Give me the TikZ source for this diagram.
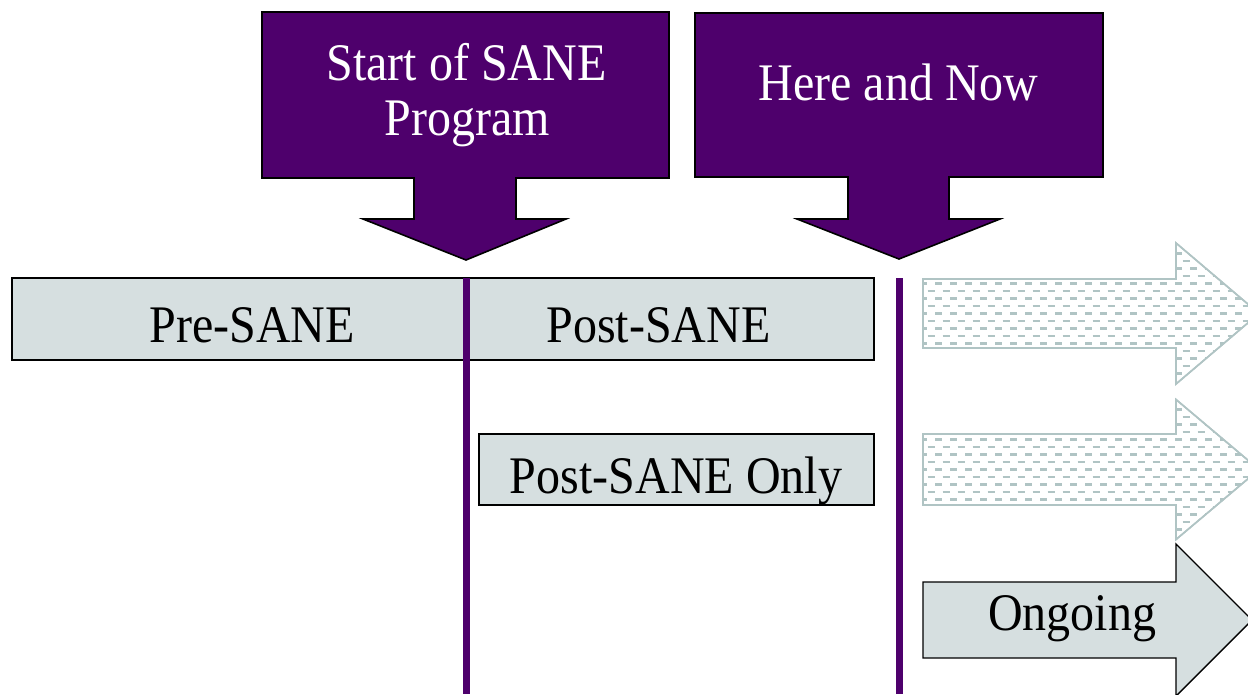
\documentclass[tikz,border=0pt]{standalone}
\usepackage{fontspec}
\usepackage{graphicx}
\setmainfont{Liberation Serif}
\definecolor{sanepurple}{RGB}{78,0,108}
\definecolor{boxgray}{RGB}{214,223,224}
\definecolor{dashgray}{RGB}{176,196,196}
\newcommand\bigtx[1]{\scalebox{1}[1.1]{\fontsize{48}{55}\selectfont #1}}
\begin{document}
\begin{tikzpicture}[x=1pt,y=-1pt,
  callout/.style={fill=sanepurple,draw=black,line width=1.6pt,line join=miter},
  graybox/.style={fill=boxgray,draw=black,line width=1.6pt},
  timeline/.style={draw=sanepurple,line width=7pt},
  ghost/.style={draw=dashgray,line width=1.6pt,fill=white},
  solidarrow/.style={fill=boxgray,draw=black,line width=1.4pt,line join=miter},
  dashrow/.style={draw=dashgray,line width=2.2pt,dash pattern=on 7pt off 8pt},
  wlbl/.style={text=white,anchor=base,inner sep=0pt},
  blbl/.style={text=black,anchor=base,inner sep=0pt}]
\useasboundingbox (0,0) rectangle (1248,694);

% callouts
\draw[callout] (262,12) -- (669,12) -- (669,178) -- (516,178) -- (516,219) -- (566,219)
  -- (466,260) -- (363,219) -- (414,219) -- (414,178) -- (262,178) -- cycle;
\draw[callout] (695,13) -- (1103,13) -- (1103,177) -- (949,177) -- (949,219) -- (1000,219)
  -- (899,259) -- (797,219) -- (848,219) -- (848,177) -- (695,177) -- cycle;
\node[wlbl] (start1) at (466.5,80) {\bigtx{Start of SANE}};
\node[wlbl] (start2) at (467,135) {\bigtx{Program}};
\node[wlbl] (here) at (898.5,100) {\bigtx{Here and Now}};

% boxes
\draw[graybox] (12,278) rectangle (874,360);
\draw[graybox] (479,434) rectangle (874,505);
\node[blbl] (pre) at (252,342) {\bigtx{Pre-SANE}};
\node[blbl] (post) at (658.5,342) {\bigtx{Post-SANE}};
\node[blbl] (only) at (676,493) {\bigtx{Post-SANE Only}};

% timelines
\coordinate (t1top) at (466.5,278);
\coordinate (t1bot) at (466.5,694);
\coordinate (t2top) at (899,278);
\coordinate (t2bot) at (899,694);
\draw[timeline] (t1top) -- (t1bot);
\draw[timeline] (t2top) -- (t2bot);

% ghost arrows (dashed fill)
\foreach \ym/\bh/\hh in {313.5/34.5/70.5, 469.5/35.5/70} {
  \begin{scope}
    \path[ghost] (923,\ym-\bh) -- (1176,\ym-\bh) -- (1176,\ym-\hh) -- (1259,\ym)
      -- (1176,\ym+\hh) -- (1176,\ym+\bh) -- (923,\ym+\bh) -- cycle;
    \clip (923,\ym-\bh) -- (1176,\ym-\bh) -- (1176,\ym-\hh) -- (1259,\ym)
      -- (1176,\ym+\hh) -- (1176,\ym+\bh) -- (923,\ym+\bh) -- cycle;
    \foreach \k in {-9,...,9} {
      \pgfmathsetmacro\yy{\ym+\k*7.5}
      \pgfmathsetmacro\off{mod(\k+20,2)*7.5}
      \draw[dashrow] (920-\off,\yy) -- (1260,\yy);
    }
  \end{scope}
  \draw[ghost,fill=none] (923,\ym-\bh) -- (1176,\ym-\bh) -- (1176,\ym-\hh) -- (1259,\ym)
      -- (1176,\ym+\hh) -- (1176,\ym+\bh) -- (923,\ym+\bh) -- cycle;
}

% ongoing arrow
\draw[solidarrow] (923,582) -- (1176,582) -- (1176,544) -- (1252,620)
  -- (1176,696) -- (1176,658) -- (923,658) -- cycle;
\node[blbl] (ongoing) at (1072,630) {\bigtx{Ongoing}};
\end{tikzpicture}
\end{document}
